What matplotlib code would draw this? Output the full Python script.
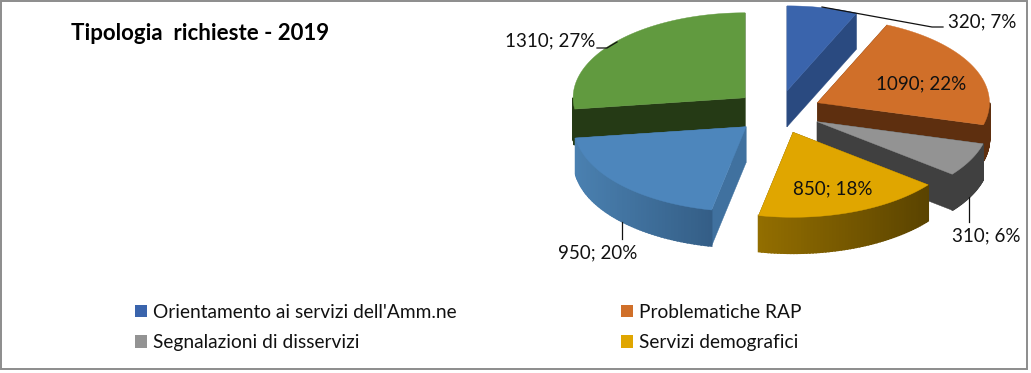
import numpy as np
import matplotlib
matplotlib.use("Agg")
import matplotlib.pyplot as plt
from matplotlib.patches import Patch, Rectangle
from matplotlib.colors import to_rgb

categories = ["Orientamento ai servizi dell'Amm.ne", "Problematiche RAP",
              "Segnalazioni di disservizi", "Servizi demografici",
              "Altri servizi", "Altre richieste"]
values = [320, 1090, 310, 850, 950, 1310]
percents = [7, 22, 6, 18, 20, 27]
title = "Tipologia  richieste - 2019"

top_colors = ["#3A64AC", "#D06F29", "#939393", "#E0A600", "#4D86BC", "#619A3F"]
face_colors = ["#2A4A80", "#5E2F0F", "#404040", "#6B5000", "#40719F", "#253A15"]
rim_left = ["#2A4A80", "#5E2F0F", "#404040", "#936E00", "#4A80B0", "#253A15"]
rim_right = ["#2A4A80", "#5E2F0F", "#404040", "#5A4300", "#345E86", "#253A15"]

plt.rcParams["font.family"] = ["Lato", "DejaVu Sans"]
W, H = 1031, 373
fig = plt.figure(figsize=(W / 100, H / 100), dpi=100, facecolor="white")
ax = fig.add_axes([0, 0, 1, 1])
ax.set_xlim(0, W)
ax.set_ylim(H, 0)
ax.axis("off")

ax.add_patch(Rectangle((0.5, 0.5), 1026, 368.5, fill=False, ec="#8C8C8C", lw=1.4))

CX, CY, RX, RY, DEPTH, EXPLODE = 778, 112, 172, 85, 36, 0.254
fractions = np.array(values) / sum(values) * 360
ends = np.cumsum(fractions)
starts = ends - fractions


def point(cx, cy, deg):
    r = np.radians(deg)
    return cx + RX * np.sin(r), cy - RY * np.cos(r)


for i in [0, 5, 1, 2, 4, 3]:
    a0, a1 = starts[i], ends[i]
    mid = (a0 + a1) / 2
    ax_, ay_ = point(0, 0, mid)
    cx, cy = CX + EXPLODE * ax_, CY + EXPLODE * ay_
    for edge in (a0, a1):
        ex, ey = point(cx, cy, edge)
        ax.fill([cx, ex, ex, cx], [cy, ey, ey + DEPTH, cy + DEPTH],
                color=face_colors[i], lw=0.3, zorder=2)
    lo, hi = max(a0, 90), min(a1, 270)
    if lo < hi:
        ang = np.linspace(lo, hi, 60)
        xs, ys = point(cx, cy, ang)
        xmin, xmax = xs.min(), xs.max()
        cl, cr = np.array(to_rgb(rim_left[i])), np.array(to_rgb(rim_right[i]))
        for k in range(len(ang) - 1):
            t = ((xs[k] + xs[k + 1]) / 2 - xmin) / (xmax - xmin)
            c = cl + (cr - cl) * t
            ax.fill([xs[k], xs[k + 1], xs[k + 1], xs[k]],
                    [ys[k], ys[k + 1], ys[k + 1] + DEPTH, ys[k] + DEPTH],
                    color=c, lw=1.2, zorder=2)
    ang = np.linspace(a0, a1, 120)
    xs, ys = point(cx, cy, ang)
    ax.fill(np.r_[cx, xs], np.r_[cy, ys], color=top_colors[i], lw=0.3, zorder=2)

labels = [f"{v}; {p}%" for v, p in zip(values, percents)]
label_pos = [(982, 22), (921, 84), (986, 236), (833, 189), (598, 253), (550, 41)]
for s, (x, y) in zip(labels, label_pos):
    ax.text(x, y, s, ha="center", va="center", fontsize=13.5, color="#111111", zorder=4)

leaders = [([822, 932, 943], [7, 27, 27]), ([617, 607, 597], [42, 48, 48]),
           ([622, 622], [222, 239]), ([969, 969], [197, 222])]
for lx, ly in leaders:
    ax.plot(lx, ly, color="#111111", lw=0.9, zorder=3)

ax.text(71, 33, title, fontsize=16, fontweight="bold", color="black", va="center", ha="left")

handles = [Patch(facecolor=top_colors[i], edgecolor="none") for i in [0, 2, 1, 3]]
names = [categories[i] for i in [0, 2, 1, 3]]
fig.legend(handles, names, ncol=2, frameon=False, fontsize=13.8,
           loc="lower left", bbox_to_anchor=(135 / W, 1 - 351 / H), bbox_transform=fig.transFigure,
           handlelength=0.63, handleheight=0.63, handletextpad=0.3,
           columnspacing=8.6, labelspacing=0.68, labelcolor="#111111", borderpad=0, borderaxespad=0)

fig.savefig("out.png", dpi=100, facecolor="white")
